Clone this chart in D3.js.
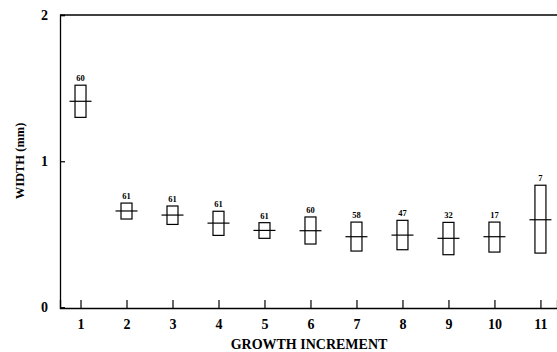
<!DOCTYPE html>
<html><head><meta charset="utf-8">
<script src="https://cdn.jsdelivr.net/npm/d3@7"></script>
<style>body{margin:0;background:#fff}svg{display:block}text{font-family:"Liberation Serif","Times New Roman",serif;font-weight:bold;fill:#000}</style>
</head><body><svg id="c" width="557" height="352"></svg>
<script>
const increments = [1,2,3,4,5,6,7,8,9,10,11];
const means = [1.41,0.66,0.632,0.577,0.527,0.525,0.484,0.495,0.473,0.484,0.60];
const upper = [1.52,0.714,0.694,0.658,0.58,0.619,0.584,0.596,0.582,0.584,0.836];
const lower = [1.30,0.605,0.568,0.493,0.473,0.434,0.386,0.395,0.361,0.379,0.372];
const counts = ["60","61","61","61","61","60","58","47","32","17","7"];
const yTicks = [0,1,2];

const svg = d3.select("#c");
const x = d3.scaleLinear().domain([0.554, 11.36]).range([60, 557]);
const y = d3.scaleLinear().domain([0, 2]).range([307.5, 15]);

// x axis
const xAxis = d3.axisBottom(x).tickValues(increments).tickSize(-8).tickPadding(18).tickFormat(d3.format("d"));
const gx = svg.append("g").attr("transform","translate(0,308)").call(xAxis);
gx.select(".domain").attr("stroke","#000").attr("stroke-width",1.3);
gx.selectAll(".tick line").attr("stroke","#000").attr("stroke-width",1.2);
gx.selectAll(".tick text").style("font-size","14px").attr("dy","0").attr("y",21);

// y axis
const yAxis = d3.axisLeft(y).tickValues(yTicks).tickSize(-5).tickPadding(12).tickFormat(d3.format("d"));
const gy = svg.append("g").attr("transform","translate(60,0)").call(yAxis);
gy.select(".domain").attr("stroke","#000").attr("stroke-width",1.3);
gy.selectAll(".tick line").attr("stroke","#000").attr("stroke-width",1.2);
gy.selectAll(".tick text").style("font-size","14px");

// top border
svg.append("line").attr("x1",x.range()[0]).attr("x2",x.range()[1]).attr("y1",y(2)).attr("y2",y(2))
  .attr("stroke","#000").attr("stroke-width",1.3);

// boxes
const g = svg.append("g");
increments.forEach((d,i)=>{
  const cx = x(d);
  g.append("rect").attr("x",cx-5.5).attr("width",11)
    .attr("y",y(upper[i])).attr("height",y(lower[i])-y(upper[i]))
    .attr("fill","none").attr("stroke","#000").attr("stroke-width",1.2);
  g.append("line").attr("x1",cx-11).attr("x2",cx+11).attr("y1",y(means[i])).attr("y2",y(means[i]))
    .attr("stroke","#000").attr("stroke-width",1.2);
  g.append("text").attr("x",cx).attr("y",y(upper[i])-4).attr("text-anchor","middle")
    .style("font-size","8.5px").text(counts[i]);
});

// axis titles
svg.append("text").attr("x",309).attr("y",349).attr("text-anchor","middle")
  .style("font-size","14px").text("GROWTH INCREMENT");
svg.append("text").attr("transform","translate(24,161) rotate(-90)").attr("text-anchor","middle")
  .style("font-size","12.5px").text("WIDTH (mm)");
</script></body></html>
